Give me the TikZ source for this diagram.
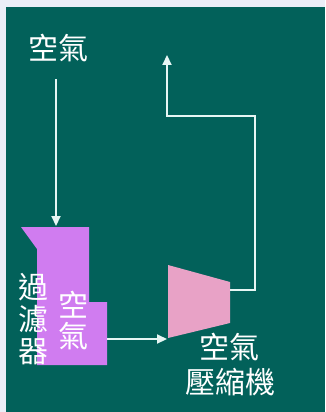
\documentclass[tikz,border=0pt]{standalone}
\usepackage{fontspec}
\newfontfamily\cjk{Noto Sans CJK TC}
\usetikzlibrary{arrows.meta}
\definecolor{bgframe}{HTML}{EBEEF7}
\definecolor{board}{HTML}{02615A}
\definecolor{filterc}{HTML}{D07CF0}
\definecolor{compc}{HTML}{E8A2C6}
\definecolor{linec}{HTML}{E6F6F4}
\tikzset{
  lbl/.style={text=white, font=\cjk\fontsize{30}{33}\selectfont, inner sep=0pt},
  flow/.style={draw=linec, line width=2.2pt, -{Triangle[length=10pt,width=9pt]}},
}
\begin{document}
\begin{tikzpicture}[x=1pt,y=-1pt]
\useasboundingbox (0,0) rectangle (325,412);
\fill[bgframe] (0,0) rectangle (325,412);
\fill[board] (6,7) rectangle (325,412);
% filter body
\fill[filterc] (21,227) -- (89,227) -- (89,302) -- (107,302) -- (107,365) -- (37,365) -- (37,249) -- cycle;
% compressor
\fill[compc] (168,265) -- (230,282) -- (230,323) -- (168,338) -- cycle;
% named points
\coordinate (airtop) at (56,79);
\coordinate (filtin) at (56,226);
\coordinate (filtout) at (107,339);
\coordinate (compin) at (167,339);
\coordinate (compout) at (230,290);
\coordinate (c1) at (255,290);
\coordinate (c2) at (255,116);
\coordinate (c3) at (167,116);
\coordinate (outtip) at (167,55);
% labels
\node[lbl] (air) at (58,48) {空氣};
\node[lbl] (f1) at (33,287) {過};
\node[lbl] (f2) at (33,319) {濾};
\node[lbl] (f3) at (33,352) {器};
\node[lbl] (a1) at (73,305) {空};
\node[lbl] (a2) at (73,336) {氣};
\node[lbl] (comp1) at (229,347) {空氣};
\node[lbl] (comp2) at (230,382) {壓縮機};
% connectors
\draw[flow] (airtop) -- (filtin);
\draw[flow] (filtout) -- (compin);
\draw[flow, line join=miter] (compout) -- (c1) -- (c2) -- (c3) -- (outtip);
\end{tikzpicture}
\end{document}
